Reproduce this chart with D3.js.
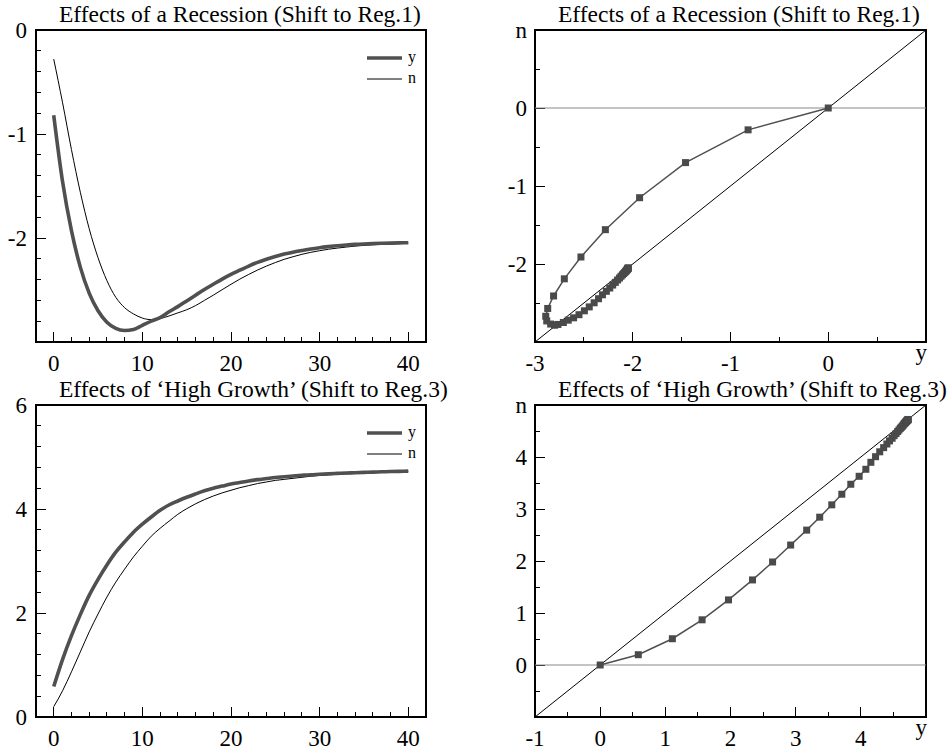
<!DOCTYPE html>
<html>
<head>
<meta charset="utf-8">
<script src="https://cdn.jsdelivr.net/npm/d3@7"></script>
<style>
  body { margin: 0; background: #fff; }
  text { font-family: "Liberation Serif", "Times New Roman", "DejaVu Serif", serif; }
</style>
</head>
<body>
<div id="chart"></div>
<script>
var svgWidth = 952;
var svgHeight = 751;
var fontName = "'Liberation Serif', 'Times New Roman', 'DejaVu Serif', serif";

// periods after the shock
var periods = [0,1,2,3,4,5,6,7,8,9,10,11,12,13,14,15,16,17,18,19,20,21,22,23,24,25,26,27,28,29,30,31,32,33,34,35,36,37,38,39,40];

// recession (shift to regime 1)
var yRecession = [-0.82,-1.46,-1.93,-2.28,-2.53,-2.70,-2.81,-2.87,-2.89,-2.88,-2.84,-2.80,-2.765,-2.71,-2.66,-2.605,-2.55,-2.495,-2.445,-2.395,-2.35,-2.31,-2.27,-2.235,-2.205,-2.178,-2.155,-2.136,-2.12,-2.105,-2.093,-2.083,-2.074,-2.067,-2.061,-2.057,-2.054,-2.051,-2.049,-2.047,-2.045];
var nRecession = [-0.28,-0.70,-1.15,-1.56,-1.91,-2.19,-2.41,-2.57,-2.67,-2.73,-2.77,-2.785,-2.775,-2.75,-2.72,-2.69,-2.65,-2.60,-2.55,-2.497,-2.445,-2.395,-2.35,-2.308,-2.27,-2.236,-2.205,-2.18,-2.157,-2.138,-2.122,-2.108,-2.097,-2.087,-2.078,-2.071,-2.065,-2.06,-2.056,-2.053,-2.05];

// high growth (shift to regime 3)
var yHighGrowth = [0.585,1.108,1.564,1.969,2.338,2.646,2.923,3.169,3.369,3.554,3.708,3.846,3.974,4.077,4.154,4.226,4.29,4.35,4.40,4.44,4.48,4.51,4.54,4.565,4.585,4.605,4.62,4.635,4.648,4.66,4.668,4.677,4.685,4.692,4.698,4.704,4.71,4.715,4.72,4.724,4.728];
var nHighGrowth = [0.198,0.505,0.869,1.252,1.636,1.981,2.307,2.594,2.843,3.080,3.284,3.476,3.629,3.764,3.898,4.006,4.10,4.18,4.25,4.31,4.36,4.41,4.45,4.49,4.52,4.55,4.57,4.59,4.61,4.63,4.645,4.655,4.665,4.675,4.685,4.693,4.70,4.707,4.713,4.718,4.722];

// point before the shift
var steadyState = {y: 0, n: 0};

var recessionTitle = "Effects of a Recession (Shift to Reg.1)";
var growthTitle = "Effects of \u2018High Growth\u2019 (Shift to Reg.3)";

var svg = d3.select("#chart").append("svg")
    .attr("width", svgWidth).attr("height", svgHeight)
    .attr("font-family", fontName);

var lineColor = "#505050";

function makeTicks(lo, hi, step) {
    var out = [];
    var n = Math.round((hi - lo) / step);
    for (var i = 0; i <= n; i++) out.push(+(lo + i * step).toFixed(4));
    return out;
}

function drawFrame(p) {
    var g = svg.append("g");
    var x = p.x, y = p.y;

    // minor + major ticks, drawn inside the box
    var xMinor = makeTicks(p.xMinor[0], p.xMinor[1], p.xMinor[2]);
    var yMinor = makeTicks(p.yMinor[0], p.yMinor[1], p.yMinor[2]);

    g.selectAll(".xminor").data(xMinor).enter().append("line")
        .attr("x1", d => x(d)).attr("x2", d => x(d))
        .attr("y1", p.y1).attr("y2", p.y1 - 5)
        .attr("stroke", "#000").attr("shape-rendering", "crispEdges");
    g.selectAll(".xmajor").data(p.xMajor).enter().append("line")
        .attr("x1", d => x(d)).attr("x2", d => x(d))
        .attr("y1", p.y1).attr("y2", p.y1 - 10)
        .attr("stroke", "#000").attr("shape-rendering", "crispEdges");
    g.selectAll(".yminor").data(yMinor).enter().append("line")
        .attr("x1", p.x0).attr("x2", p.x0 + 5)
        .attr("y1", d => y(d)).attr("y2", d => y(d))
        .attr("stroke", "#000").attr("shape-rendering", "crispEdges");
    g.selectAll(".ymajor").data(p.yMajor).enter().append("line")
        .attr("x1", p.x0).attr("x2", p.x0 + 10)
        .attr("y1", d => y(d)).attr("y2", d => y(d))
        .attr("stroke", "#000").attr("shape-rendering", "crispEdges");

    g.append("rect")
        .attr("x", p.x0).attr("y", p.y0)
        .attr("width", p.x1 - p.x0).attr("height", p.y1 - p.y0)
        .attr("fill", "none").attr("stroke", "#000").attr("stroke-width", 1.2)
        .attr("shape-rendering", "crispEdges");

    // tick labels
    g.selectAll(".xlab").data(p.xLabels).enter().append("text")
        .attr("x", d => x(d.v) + (d.dx || 0))
        .attr("y", d => p.y1 + (d.dy || 29))
        .attr("text-anchor", d => d.anchor || "middle")
        .attr("font-family", fontName)
        .attr("font-size", "23px")
        .text(d => d.t);
    g.selectAll(".ylab").data(p.yLabels).enter().append("text")
        .attr("x", p.x0 - p.labelGap)
        .attr("y", d => y(d.v) + 8)
        .attr("text-anchor", "end")
        .attr("font-family", fontName)
        .attr("font-size", "23px")
        .text(d => d.t);

    g.append("text")
        .attr("x", p.x0 + 23)
        .attr("y", p.y0 - 8)
        .attr("font-family", fontName)
        .attr("font-size", "23.5px")
        .text(p.title);
    return g;
}

function labels(values) {
    return values.map(v => ({v: v, t: String(v)}));
}

function timePanel(x0, y0, yDomain, yMajor, yMinorStep, title, ySeries, nSeries) {
    var p = {x0: x0, x1: x0 + 390, y0: y0, y1: y0 + 312, title: title, labelGap: 9};
    p.x = d3.scaleLinear().domain([-2, 42]).range([p.x0, p.x1]);
    p.y = d3.scaleLinear().domain(yDomain).range([p.y1, p.y0]);
    p.xMajor = [0, 10, 20, 30, 40];
    p.xMinor = [0, 40, 2];
    p.yMajor = yMajor;
    p.yMinor = [yDomain[0], yDomain[1], yMinorStep];
    p.xLabels = labels(p.xMajor);
    p.yLabels = labels(yMajor.filter(v => v !== yDomain[0] || yDomain[0] === 0));
    var g = drawFrame(p);

    var line = d3.line().x((d, i) => p.x(periods[i])).y(d => p.y(d)).curve(d3.curveMonotoneX);
    g.append("path").datum(nSeries).attr("d", line)
        .attr("fill", "none").attr("stroke", "#000").attr("stroke-width", 1);
    g.append("path").datum(ySeries).attr("d", line)
        .attr("fill", "none").attr("stroke", lineColor).attr("stroke-width", 3.6);

    // legend
    var lg = g.append("g").attr("transform", `translate(${p.x1 - 59},${p.y0 + 28})`);
    lg.append("line").attr("x1", 0).attr("x2", 35).attr("y1", 0).attr("y2", 0)
        .attr("stroke", lineColor).attr("stroke-width", 3.6);
    lg.append("text").attr("x", 41).attr("y", 4).attr("font-family", fontName)
        .attr("font-size", "16px").text("y");
    lg.append("line").attr("x1", 0).attr("x2", 35).attr("y1", 21).attr("y2", 21)
        .attr("stroke", "#000").attr("stroke-width", 1);
    lg.append("text").attr("x", 41).attr("y", 25).attr("font-family", fontName)
        .attr("font-size", "16px").text("n");
}

function phasePanel(x0, y0, domain, title, ySeries, nSeries) {
    var p = {x0: x0, x1: x0 + 391, y0: y0, y1: y0 + 312, title: title, labelGap: 8};
    p.x = d3.scaleLinear().domain(domain).range([p.x0, p.x1]);
    p.y = d3.scaleLinear().domain(domain).range([p.y1, p.y0]);
    p.xMajor = d3.range(domain[0], domain[1] + 1);
    p.yMajor = p.xMajor;
    p.xMinor = [domain[0], domain[1], 0.5];
    p.yMinor = [domain[0], domain[1], 0.5];
    p.xLabels = p.xMajor.slice(0, -1).map(v => ({v: v, t: String(v)}));
    p.xLabels.push({v: domain[1], t: "y", anchor: "end", dx: 1, dy: 18});
    p.yLabels = p.yMajor.slice(1, -1).map(v => ({v: v, t: String(v)}));
    p.yLabels.push({v: domain[1], t: "n"});
    var g = drawFrame(p);

    var clip = "clip" + x0 + "_" + y0;
    svg.append("clipPath").attr("id", clip).append("rect")
        .attr("x", p.x0).attr("y", p.y0).attr("width", p.x1 - p.x0).attr("height", p.y1 - p.y0);
    var inner = g.append("g").attr("clip-path", `url(#${clip})`);

    // zero line and 45 degree line
    inner.append("line")
        .attr("x1", p.x0).attr("x2", p.x1).attr("y1", p.y(0)).attr("y2", p.y(0))
        .attr("stroke", "#8a8a8a").attr("stroke-width", 1.2);
    inner.append("line")
        .attr("x1", p.x(domain[0])).attr("y1", p.y(domain[0]))
        .attr("x2", p.x(domain[1])).attr("y2", p.y(domain[1]))
        .attr("stroke", "#000").attr("stroke-width", 1);

    var pts = [steadyState].concat(ySeries.map((v, i) => ({y: v, n: nSeries[i]})));
    var line = d3.line().x(d => p.x(d.y)).y(d => p.y(d.n));
    inner.append("path").datum(pts).attr("d", line)
        .attr("fill", "none").attr("stroke", lineColor).attr("stroke-width", 1.5);
    inner.selectAll(".mk").data(pts).enter().append("rect")
        .attr("x", d => p.x(d.y) - 3.5).attr("y", d => p.y(d.n) - 3.5)
        .attr("width", 7).attr("height", 7)
        .attr("fill", "#4a4a4a");
}

timePanel(36, 30, [-3, 0], [-3, -2, -1, 0], 0.2, recessionTitle, yRecession, nRecession);
phasePanel(535, 30, [-3, 1], recessionTitle, yRecession, nRecession);
timePanel(36, 405, [0, 6], [0, 2, 4, 6], 0.4, growthTitle, yHighGrowth, nHighGrowth);
phasePanel(535, 405, [-1, 5], growthTitle, yHighGrowth, nHighGrowth);
</script>
</body>
</html>
